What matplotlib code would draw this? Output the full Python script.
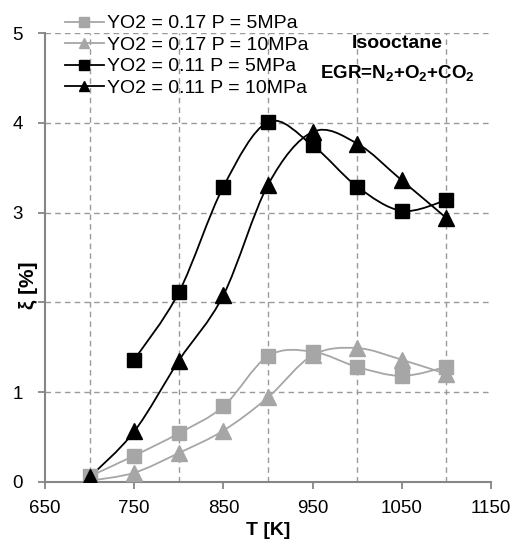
import numpy as np
import matplotlib
matplotlib.use("Agg")
import matplotlib.pyplot as plt
from matplotlib.path import Path
from matplotlib.patches import PathPatch
from matplotlib.lines import Line2D

plt.rcParams['font.family'] = ['Liberation Sans', 'DejaVu Sans']
plt.rcParams['mathtext.fontset'] = 'custom'
plt.rcParams['mathtext.rm'] = 'Liberation Sans:bold'
plt.rcParams['mathtext.bf'] = 'Liberation Sans:bold'
plt.rcParams['mathtext.default'] = 'bf'

#%% data
T_all = [700, 750, 800, 850, 900, 950, 1000, 1050, 1100]
T_sq11 = [750, 800, 850, 900, 950, 1000, 1050, 1100]

xi_017_5 = [0.06, 0.29, 0.54, 0.84, 1.40, 1.45, 1.28, 1.18, 1.28]
xi_017_10 = [0.01, 0.10, 0.32, 0.57, 0.94, 1.41, 1.49, 1.36, 1.20]
xi_011_5 = [1.36, 2.11, 3.29, 4.01, 3.75, 3.29, 3.02, 3.14]
xi_011_10 = [0.05, 0.56, 1.35, 2.08, 3.31, 3.90, 3.77, 3.36, 2.94]

labels = ["YO2 = 0.17 P = 5MPa", "YO2 = 0.17 P = 10MPa",
          "YO2 = 0.11 P = 5MPa", "YO2 = 0.11 P = 10MPa"]
x_ticks = [650, 750, 850, 950, 1050, 1150]
y_ticks = [0, 1, 2, 3, 4, 5]
y_ticklabels = ["0", "1", "", "3", "4", "5"]

GRAY = "#a6a6a6"
AXC = "#868686"


def smooth_path(x, y):
    """Excel-like smoothed line (Catmull-Rom as cubic bezier)"""
    pts = np.column_stack([x, y]).astype(float)
    n = len(pts)
    verts = [pts[0]]
    codes = [Path.MOVETO]
    for i in range(n - 1):
        p0 = pts[max(i - 1, 0)]
        p1 = pts[i]
        p2 = pts[i + 1]
        p3 = pts[min(i + 2, n - 1)]
        verts += [p1 + (p2 - p0) / 6, p2 - (p3 - p1) / 6, p2]
        codes += [Path.CURVE4] * 3
    return Path(verts, codes)


fig = plt.figure(figsize=(5.18, 5.55), dpi=100)
ax = fig.add_axes([45 / 518, 1 - 481.7 / 555, 446 / 518, 448.4 / 555])

series = [
    (T_all, xi_017_5, GRAY, 's', 10.5),
    (T_all, xi_017_10, GRAY, '^', 11),
    (T_sq11, xi_011_5, 'black', 's', 10.5),
    (T_all, xi_011_10, 'black', '^', 11),
]

handles = []
for (x, y, c, m, ms), lab in zip(series, labels):
    ax.add_patch(PathPatch(smooth_path(x, y), fill=False, edgecolor=c, lw=1.3, zorder=3))
    ax.plot(x, y, ls='none', marker=m, ms=ms, color=c, zorder=4)
    handles.append(Line2D([], [], color=c, lw=1.3, marker=m, ms=7.5, label=lab))

ax.set_xlim(650, 1150)
ax.set_ylim(0, 5)
ax.set_xticks(x_ticks)
ax.set_xticks(range(700, 1151, 50), minor=True)
ax.set_yticks(y_ticks)
ax.set_yticklabels(y_ticklabels)
ax.grid(which='minor', axis='x', ls=(0, (4, 3)), color='#9a9a9a', lw=1)
ax.grid(which='major', axis='y', ls=(0, (4, 3)), color='#9a9a9a', lw=1)
ax.tick_params(which='minor', length=0)
ax.tick_params(which='major', length=5, width=1.3, color=AXC, labelsize=13.5)
ax.tick_params(axis='x', pad=8)
ax.tick_params(axis='y', pad=11)
for s in ['top', 'right']:
    ax.spines[s].set_visible(False)
for s in ['left', 'bottom']:
    ax.spines[s].set_color(AXC)
    ax.spines[s].set_linewidth(1.5)

ax.set_xlabel("T [K]", fontsize=14, fontweight='bold', labelpad=4)
fig.text(28 / 518, 1 - 285 / 555, "ξ [%]", fontsize=15, fontweight='bold',
         rotation=90, ha='center', va='center')

fig.legend(handles=handles, loc='upper left', bbox_to_anchor=(55 / 518, 1 - 5 / 555),
           frameon=False, fontsize=14, handlelength=2.0, handletextpad=0.15,
           labelspacing=0.2, borderpad=0)

fig.text(397 / 518, 1 - 43 / 555, "Isooctane", fontsize=14, fontweight='bold',
         ha='center', va='center')
fig.text(397 / 518, 1 - 73 / 555, r"EGR=N$_2$+O$_2$+CO$_2$", fontsize=13.5,
         fontweight='bold', ha='center', va='center')

fig.savefig("out.png", dpi=100)
